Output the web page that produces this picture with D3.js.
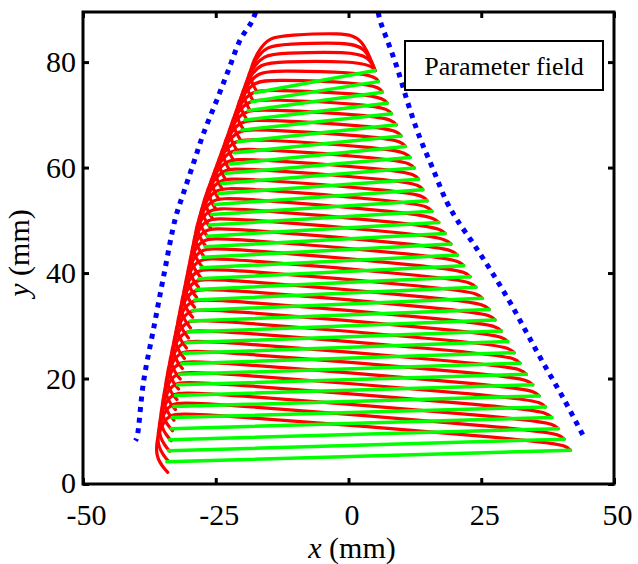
<!DOCTYPE html>
<html><head><meta charset="utf-8">
<script src="https://cdn.jsdelivr.net/npm/d3@7"></script>
<style>body{margin:0;background:#fff}svg{display:block}</style>
</head><body>
<svg id="c" width="638" height="564"></svg>
<script>
// ---- data (mm) ----
const xTicks = [-50, -25, 0, 25, 50];
const yTicks = [0, 20, 40, 60, 80];
const legendLabel = "Parameter field";

// green raster lines: left end -> right end
const greenLeftX = [-34.2,-33.9,-33.7,-33.4,-33.2,-32.9,-32.6,-32.2,-31.8,-31.4,-31.0,-30.6,-30.2,-29.8,-29.4,-29.0,-28.6,-28.2,-27.8,-27.4,-27.0,-26.6,-26.2,-25.8,-25.2,-24.5,-23.9,-23.1,-22.3,-21.5,-20.8,-20.1,-19.5,-18.9,-18.2,-17.6];
const greenLeftY = [4.2,6.3,8.4,10.5,12.6,14.7,16.8,18.8,20.8,22.8,24.8,26.8,28.8,30.9,32.9,34.9,36.9,38.9,41.0,43.0,45.0,47.0,49.1,51.1,53.0,55.1,57.0,58.9,60.7,62.8,64.9,67.1,69.0,70.8,72.5,74.2];
const greenRightX = [41.8,40.6,39.5,38.3,37.1,35.9,34.7,33.5,32.3,31.2,30.0,28.8,27.6,26.5,25.2,24.0,22.9,21.7,20.5,19.3,18.2,17.0,15.7,14.8,14.0,13.2,12.4,11.6,10.7,9.9,9.0,8.1,7.3,6.4,5.6,5.0];
const greenRightY = [6.4,8.5,10.5,12.6,14.6,16.7,18.8,20.8,22.9,24.9,27.0,29.0,31.1,33.1,35.2,37.3,39.3,41.4,43.4,45.5,47.5,49.6,51.7,53.7,55.8,57.8,59.9,61.9,64.0,66.0,68.1,70.2,72.2,74.3,76.3,78.4];

// red curves: left tail end, left corner height, right shoulder height, right end
const redTailY = [2.2,4.3,6.2,8.2,10.1,12.1,14.1,16.0,18.0,19.9,21.9,23.8,25.8,27.7,29.6,31.6,33.5,35.4,37.3,39.2,41.1,43.0,44.9,46.7,48.6,50.4,52.3,54.1,56.0,57.8,59.7,61.6,63.4,65.3,67.2,69.1,70.9,72.6,74.4];
const redCornerY = [13.2,15.3,17.2,19.2,21.1,23.1,25.1,27.0,29.0,30.9,32.9,34.8,36.8,38.7,40.6,42.6,44.5,46.4,48.3,50.2,52.1,54.0,55.9,57.7,59.6,61.4,63.3,65.1,67.0,68.8,70.7,72.6,74.4,76.3,78.0,79.7,81.3,83.0,84.7];
const redShoulderY = [8.2,10.3,12.3,14.4,16.4,18.5,20.6,22.6,24.7,26.7,28.8,30.8,32.9,34.9,37.0,39.1,41.1,43.2,45.2,47.3,49.3,51.4,53.5,55.5,57.6,59.6,61.7,63.7,65.8,67.8,69.9,72.0,74.0,76.1,78.1,80.2,82.0,83.8,85.6];
const redEndX = [41.8,40.6,39.5,38.3,37.1,35.9,34.7,33.5,32.3,31.2,30.0,28.8,27.6,26.5,25.2,24.0,22.9,21.7,20.5,19.3,18.2,17.0,15.7,14.8,14.0,13.2,12.4,11.6,10.7,9.9,9.0,8.1,7.3,6.4,5.6,5.0,5.0,5.0,5.0];
const redEndY = [6.4,8.5,10.5,12.6,14.6,16.7,18.8,20.8,22.9,24.9,27.0,29.0,31.1,33.1,35.2,37.3,39.3,41.4,43.4,45.5,47.5,49.6,51.7,53.7,55.8,57.8,59.9,61.9,64.0,66.0,68.1,70.2,72.2,74.3,76.3,78.4,78.4,78.4,78.4];

// outline of the track (edges the red curves follow)
const leftEdgeY = [0, 4.2, 10.5, 18.8, 30.9, 41.0, 51.1, 58.9, 64.9, 70.8, 74.2, 80, 86, 92];
const leftEdgeX = [-34.5, -34.2, -33.4, -32.2, -29.8, -27.8, -25.8, -23.1, -20.8, -18.9, -17.6, -15.6, -13.6, -11.6];
const rightEdgeY = [0, 6.4, 16.7, 29.0, 41.4, 51.7, 59.9, 68.1, 74.3, 78.4, 84, 90];
const rightEdgeX = [45.4, 41.8, 35.9, 28.8, 21.7, 15.7, 12.3, 9.0, 6.4, 5.0, 3.0, 1.0];

// blue dotted "parameter field" limits
const blueLeftX = [-17.5, -18.2, -20.4, -22.6, -24.8, -27.3, -29.2, -31.1, -32.6, -34.7, -36.6, -38.6, -39.8, -40.1];
const blueLeftY = [89.4, 87.7, 84.2, 78.5, 72.8, 66.5, 60.8, 55.1, 50.4, 40.0, 30.0, 19.4, 9.0, 8.2];
const blueRightX = [5.6, 6.0, 7.5, 9.1, 11.1, 13.3, 15.8, 18.5, 20.5, 23.7, 27.1, 30.5, 33.6, 36.7, 40.5, 44.6];
const blueRightY = [89.4, 87.7, 83.6, 79.1, 72.5, 66.0, 60.0, 53.5, 50.0, 45.3, 40.0, 34.3, 28.6, 22.9, 16.2, 8.4];

// ---- drawing ----
const L = 83, R = 614, T = 12, B = 484;
const x = d3.scaleLinear().domain([-50, 50]).range([L, R]);
const y = d3.scaleLinear().domain([0, 89.5]).range([B, T]);
const leftEdge = d3.scaleLinear().domain(leftEdgeY).range(leftEdgeX);
const rightEdge = d3.scaleLinear().domain(rightEdgeY).range(rightEdgeX);

const svg = d3.select("#c");
const font = "'Liberation Serif', 'Times New Roman', Times, serif";

svg.append("defs").append("clipPath").attr("id", "clip")
  .append("rect").attr("x", L).attr("y", T).attr("width", R - L).attr("height", B - T);

const plot = svg.append("g").attr("clip-path", "url(#clip)");
const lineCurve = d3.line().x(d => x(d[0])).y(d => y(d[1])).curve(d3.curveBasis);
const lineStraight = d3.line().x(d => x(d[0])).y(d => y(d[1]));
const lineSmooth = d3.line().x(d => x(d[0])).y(d => y(d[1])).curve(d3.curveCatmullRom);

// red curves
redTailY.forEach((yT, i) => {
  const hL = redCornerY[i], hR = redShoulderY[i];
  const pts = [
    [leftEdge(yT) + 0.3, yT],
    [leftEdge(yT + 3) - 2.6, yT + 3],
    [leftEdge(hL - 2.5) - 2.2, hL - 2.5],
    [leftEdge(hL) - 0.8, hL],
    [leftEdge(hL) + 2.5, hL + 0.4],
    [rightEdge(hR) - 3.5, hR],
    [rightEdge(hR) + 0.2, hR - 1.0],
    [redEndX[i], redEndY[i]]
  ];
  plot.append("path").attr("d", lineCurve(pts))
    .attr("fill", "none").attr("stroke", "#ff0000").attr("stroke-width", 3.2)
    .attr("stroke-linecap", "round").attr("stroke-linejoin", "round");
});

// green lines
greenLeftX.forEach((lx, i) => {
  plot.append("path")
    .attr("d", lineStraight([[lx, greenLeftY[i]], [greenRightX[i], greenRightY[i]]]))
    .attr("fill", "none").attr("stroke", "#00ff00").attr("stroke-width", 3.5)
    .attr("stroke-linecap", "round");
});

// blue dotted lines
[[blueLeftX, blueLeftY], [blueRightX, blueRightY]].forEach(([bx, by]) => {
  plot.append("path").attr("d", lineSmooth(bx.map((v, i) => [v, by[i]])))
    .attr("fill", "none").attr("stroke", "#0000ff").attr("stroke-width", 5)
    .attr("stroke-dasharray", "5,5.6");
});

// axes (ticks inward on all sides)
const axB = svg.append("g").attr("transform", `translate(0,${B})`)
  .call(d3.axisBottom(x).tickValues(xTicks).tickSize(-6).tickPadding(20).tickFormat(d3.format("d")));
const axL = svg.append("g").attr("transform", `translate(${L},0)`)
  .call(d3.axisLeft(y).tickValues(yTicks).tickSize(-6).tickPadding(7).tickFormat(d3.format("d")));
const axT = svg.append("g").attr("transform", `translate(0,${T})`)
  .call(d3.axisTop(x).tickValues(xTicks).tickSize(-6).tickFormat(""));
const axR = svg.append("g").attr("transform", `translate(${R},0)`)
  .call(d3.axisRight(y).tickValues(yTicks).tickSize(-6).tickFormat(""));
[axB, axL, axT, axR].forEach(g => {
  g.attr("font-family", null).attr("font-size", null);
  g.select(".domain").remove();
  g.selectAll(".tick line").attr("stroke", "#000").attr("stroke-width", 3);
  g.selectAll("text").style("font-family", font).style("font-size", "30px").attr("fill", "#000");
});
axB.selectAll("text").text(d => d < 0 ? "-" + Math.abs(d) : d).attr("dx", 3);
axL.selectAll(".tick").filter(d => d === 0).select("text").attr("dy", "0.28em");

// frame
svg.append("rect").attr("x", L).attr("y", T).attr("width", R - L).attr("height", B - T)
  .attr("fill", "none").attr("stroke", "#000").attr("stroke-width", 3);

// axis titles
const xl = svg.append("text").attr("x", 352).attr("y", 558).attr("text-anchor", "middle")
  .style("font-family", font).style("font-size", "30px");
xl.append("tspan").style("font-style", "italic").text("x");
xl.append("tspan").text(" (mm)");
const yl = svg.append("text").attr("transform", "translate(29,253) rotate(-90)").attr("text-anchor", "middle")
  .style("font-family", font).style("font-size", "30px");
yl.append("tspan").style("font-style", "italic").text("y");
yl.append("tspan").text(" (mm)");

// legend box
svg.append("rect").attr("x", 405).attr("y", 41).attr("width", 198).attr("height", 49)
  .attr("fill", "#fff").attr("stroke", "#000").attr("stroke-width", 2);
svg.append("text").attr("x", 504).attr("y", 75).attr("text-anchor", "middle")
  .style("font-family", font).style("font-size", "26px").text(legendLabel);
</script>
</body></html>
